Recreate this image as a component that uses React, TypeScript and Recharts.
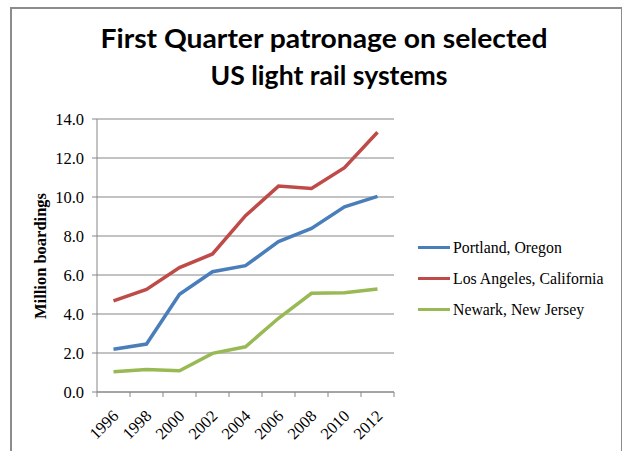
import React from "react";
import { LineChart, Line, XAxis, YAxis, CartesianGrid } from "recharts";

const years = ["1996", "1998", "2000", "2002", "2004", "2006", "2008", "2010", "2012"];
const portland = [2.19, 2.46, 5.01, 6.17, 6.48, 7.71, 8.39, 9.5, 10.03];
const losAngeles = [4.67, 5.26, 6.38, 7.08, 9.04, 10.56, 10.44, 11.5, 13.32];
const newark = [1.04, 1.16, 1.09, 1.98, 2.32, 3.78, 5.06, 5.09, 5.28];
const yTicks = [0, 2, 4, 6, 8, 10, 12, 14];

const seriesNames = ["Portland, Oregon", "Los Angeles, California", "Newark, New Jersey"];
const colors = ["#4A7EBB", "#BE4B48", "#98B954"];

const data = years.map((y, i) => ({
  year: y,
  portland: portland[i],
  la: losAngeles[i],
  newark: newark[i],
}));

const serif = "'Liberation Serif', 'DejaVu Serif', serif";
const titleFont = "Lato, 'Open Sans', 'Liberation Sans', sans-serif";
const gray = "#868686";
const BAND = 297 / 9;

const XTick = (props: any) => {
  const { x, y, payload, index } = props;
  const isLast = index === years.length - 1;
  return (
    <g>
      <line x1={x - BAND / 2} x2={x - BAND / 2} y1={y - 8} y2={y - 3} stroke={gray} strokeWidth={1} />
      {isLast && <line x1={x + BAND / 2} x2={x + BAND / 2} y1={y - 8} y2={y - 3} stroke={gray} strokeWidth={1} />}
      <text
        x={x + 6}
        y={y + 17}
        transform={`rotate(-45, ${x + 6}, ${y + 17})`}
        textAnchor="end"
        fontFamily={serif}
        fontSize={16.5}
        fill="#000"
      >
        {payload.value}
      </text>
    </g>
  );
};

export default function App() {
  return (
    <div style={{ position: "absolute", left: 0, top: 0, width: 622, height: 451, background: "#fff", overflow: "hidden" }}>
      <div
        style={{
          position: "absolute",
          left: 10,
          top: 7,
          width: 609,
          height: 460,
          borderLeft: "2px solid #8c8c8c",
          borderTop: "2px solid #8c8c8c",
          borderRight: "2px solid #8c8c8c",
        }}
      />
      <svg width={622} height={110} style={{ position: "absolute", left: 0, top: 0 }}>
        <text
          x={324}
          y={48}
          textAnchor="middle"
          fontFamily={titleFont}
          fontWeight="bold"
          fontSize={27}
          textLength={447}
          lengthAdjust="spacingAndGlyphs"
          fill="#000"
        >
          First Quarter patronage on selected
        </text>
        <text
          x={329}
          y={85}
          textAnchor="middle"
          fontFamily={titleFont}
          fontWeight="bold"
          fontSize={27}
          textLength={237}
          lengthAdjust="spacingAndGlyphs"
          fill="#000"
        >
          US light rail systems
        </text>
      </svg>
      <div style={{ position: "absolute", left: 0, top: 0 }}>
        <LineChart
          width={622}
          height={451}
          data={data}
          margin={{ top: 119, right: 228, bottom: 0, left: 37 }}
        >
          <CartesianGrid vertical={false} stroke={gray} strokeWidth={1} />
          <XAxis
            dataKey="year"
            type="category"
            padding={{ left: BAND / 2, right: BAND / 2 }}
            axisLine={{ stroke: gray, strokeWidth: 1 }}
            tickLine={false}
            tick={<XTick />}
            interval={0}
            height={59}
          />
          <YAxis
            domain={[0, 14]}
            ticks={yTicks}
            width={60}
            interval={0}
            tickFormatter={(v: number) => v.toFixed(1)}
            axisLine={{ stroke: gray, strokeWidth: 1 }}
            tickLine={{ stroke: gray, strokeWidth: 1 }}
            tickSize={5}
            tickMargin={8}
            tick={{ fontFamily: serif, fontSize: 16.5, fill: "#000" }}
          />
          <Line dataKey="portland" name={seriesNames[0]} stroke={colors[0]} strokeWidth={3.5} dot={false} isAnimationActive={false} />
          <Line dataKey="la" name={seriesNames[1]} stroke={colors[1]} strokeWidth={3.5} dot={false} isAnimationActive={false} />
          <Line dataKey="newark" name={seriesNames[2]} stroke={colors[2]} strokeWidth={3.5} dot={false} isAnimationActive={false} />
        </LineChart>
      </div>
      <svg width={40} height={200} style={{ position: "absolute", left: 20, top: 156 }}>
        <text
          x={0}
          y={0}
          transform="translate(26, 100) rotate(-90)"
          textAnchor="middle"
          fontFamily={serif}
          fontSize={16.5}
          fontWeight="bold"
          fill="#000"
        >
          Million boardings
        </text>
      </svg>
      <div style={{ position: "absolute", left: 418, top: 232, fontFamily: serif, fontSize: 15.8, color: "#000" }}>
        {seriesNames.map((n, i) => (
          <div key={n} style={{ display: "flex", alignItems: "center", height: 31, whiteSpace: "nowrap" }}>
            <div style={{ width: 32, height: 3.5, background: colors[i], marginRight: 3 }} />
            <span>{n}</span>
          </div>
        ))}
      </div>
    </div>
  );
}
